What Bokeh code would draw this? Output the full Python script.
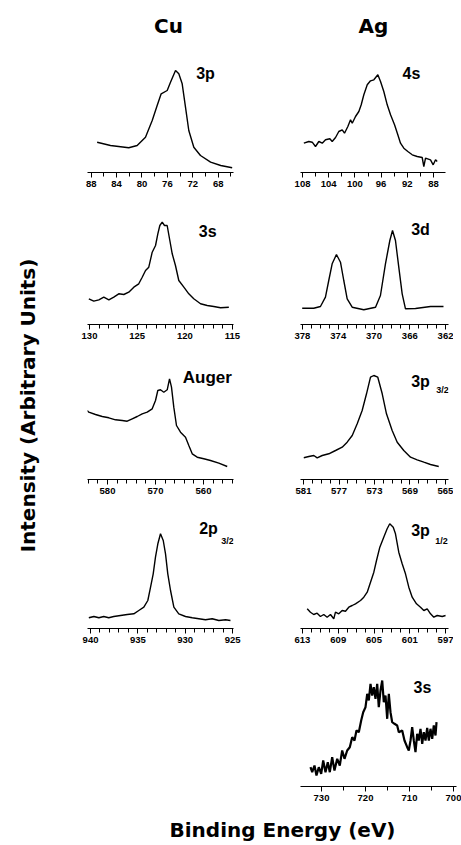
from math import pi
from bokeh.plotting import figure
from bokeh.models import Range1d, FixedTicker, Label, Spacer
from bokeh.layouts import column, row
from bokeh.embed import file_html
from bokeh.resources import INLINE

FONT = "Liberation Sans"
TFONT = "DejaVu Sans"

# ---------------- data (binding energy eV, intensity arb.) ----------------
cu3p_be = [87.06, 84.96, 82.08, 80.76, 79.45, 78.39, 77.61, 76.98, 76.03, 75.51, 74.72,
           74.2, 73.67, 73.15, 72.63, 71.84, 70.79, 69.2, 67.6, 65.8]
cu3p_int = [30.3, 27, 24.7, 27, 35.3, 52, 67, 78.7, 82, 90.3, 102,
            98.7, 88.7, 65.3, 42, 25.3, 17, 10.3, 7, 4.7]

ag4s_be = [107.8, 107.04, 106.52, 106.02, 105.51, 104.99, 104.49, 103.83, 103.47, 102.96,
           102.46, 101.94, 101.59, 101.08, 100.67, 100.41, 99.91, 99.40, 99.04, 98.64,
           98.12, 97.62, 97.11, 96.50, 96.09, 95.59, 95.07, 94.56, 93.95, 93.45,
           93.04, 92.53, 91.92, 91.25, 90.49, 89.73, 89.48, 89.22, 88.46, 88.05, 87.69, 87.44]
ag4s_int = [29.3, 31, 30.3, 26, 31, 29.3, 32.7, 33.7, 31, 35,
            41, 42.7, 39.3, 46, 52.7, 49.3, 56, 61, 67.7, 77.7,
            87.7, 91.7, 92.7, 97.7, 91, 81, 67.7, 57.7, 47.7, 37.7,
            29.3, 24.3, 21, 17.7, 16, 15, 6, 14.3, 12.7, 7.7, 12.7, 11]

cu3s_be = [130.07, 129.55, 129.02, 128.50, 127.97, 127.45, 126.93, 126.40, 125.88, 125.35,
           124.83, 124.47, 124.12, 123.78, 123.42, 123.07, 122.83, 122.62, 122.37, 122.13,
           121.85, 121.57, 121.32, 120.98, 120.63, 120.10, 119.58, 119.06, 118.35, 117.65,
           116.96, 116.25, 115.38]
cu3s_int = [25.7, 23.3, 24.7, 27.3, 24.7, 27.3, 30.7, 30, 32.3, 37.3,
            40.7, 47.3, 54, 57.3, 72.3, 79, 90.7, 99, 102.3, 99,
            99, 84, 70.7, 59, 44, 37.3, 30.7, 25.7, 20.7, 19,
            18, 16.7, 17.3]

ag3d_be = [378.03, 376.74, 375.99, 375.43, 375.06, 374.68, 374.20, 373.75, 373.38, 373.0,
           372.44, 371.14, 369.83, 369.28, 368.72, 368.23, 367.93, 367.60, 367.23, 366.85,
           366.48, 365.36, 363.68, 362.23]
ag3d_int = [16.3, 16.3, 18, 27.3, 44, 60.7, 70, 62.3, 44, 25.7,
            17.3, 14.7, 17.3, 29, 60.7, 84, 94, 84, 57.3, 30.7,
            15.7, 16, 18, 18]

cuaug_be = [584.23, 583.9, 582.5, 581.1, 579.73, 578.33, 576.94, 575.9, 574.85, 573.81,
            572.77, 571.73, 570.69, 570.0, 569.52, 568.96, 568.27, 567.56, 567.08, 566.67,
            566.19, 565.63, 564.79, 563.75, 563.06, 562.35, 561.31, 559.94, 558.54, 556.81,
            555.06]
cuaug_int = [69, 67.3, 65, 63, 61.7, 59.7, 59, 58.3, 60.7, 63,
             65.7, 67.3, 70.7, 79, 89, 89.7, 87.3, 89.7, 100.7, 92.3,
             72.3, 54, 47.3, 42.3, 34, 25.7, 22.3, 20.7, 19, 16.3,
             13]

ag3p32_be = [580.97, 580.4, 579.84, 579.46, 578.89, 578.15, 577.39, 576.64, 576.08, 575.51,
             574.95, 574.39, 573.9, 573.45, 573.08, 572.63, 572.13, 571.65, 571.01, 570.44,
             569.70, 568.94, 568.19, 567.44, 566.69, 565.76]
ag3p32_int = [21.7, 23, 24, 21.7, 24, 25.7, 29, 32.3, 37.3, 44,
              55.7, 69, 85.7, 102.3, 104, 102.3, 85.7, 65.7, 49, 37.3,
              29, 22.3, 19.7, 17.3, 15, 13]

cu2p_be = [940.18, 939.65, 939.12, 938.6, 938.07, 937.54, 936.83, 936.12, 935.43, 934.9,
           934.37, 933.95, 933.66, 933.38, 933.14, 932.89, 932.61, 932.32, 932.08, 931.84,
           931.55, 931.2, 930.68, 929.97, 929.26, 928.56, 927.86, 927.15, 926.45, 925.74,
           925.22]
cu2p_int = [10.7, 12, 10.7, 12, 10.7, 12, 13, 14, 14.7, 18,
            21.3, 28, 41.3, 54.7, 71.3, 84.7, 94.7, 88, 74.7, 54.7,
            38, 21.3, 14.7, 12, 10.7, 9.7, 8.7, 9.7, 8, 8.7,
            8]

ag3p12_be = [612.47, 612.11, 611.74, 611.36, 610.99, 610.62, 610.24, 609.87, 609.5, 609.31,
             608.94, 608.56, 608.19, 607.82, 607.44, 607.07, 606.51, 606.14, 605.76, 605.39,
             605.02, 604.72, 604.35, 603.91, 603.53, 603.24, 602.85, 602.6, 602.23, 601.85,
             601.48, 601.11, 600.73, 600.25, 599.8, 599.43, 599.05, 598.68, 598.31, 597.93,
             597.37, 597.0]
ag3p12_int = [19.7, 16.3, 14, 15.3, 12, 14, 11.3, 14, 9.7, 16.3,
              14.7, 18, 17.3, 21.3, 23, 24.7, 28, 31.3, 36.3, 46.3,
              56.3, 68, 81.3, 91.3, 99.7, 104.7, 101.3, 94.7, 76.3, 64.7,
              54.7, 41.3, 31.3, 24.7, 21.3, 18, 19.7, 14.7, 11.3, 13,
              12, 13]

ag3s_be = [732.5, 732.11, 731.59, 731.14, 730.61, 730.07, 729.61, 729.09, 728.57, 728.11,
           727.57, 727.05, 726.43, 725.84, 725.3, 724.77, 724.16, 723.57, 723.02, 722.5,
           722.05, 721.52, 720.98, 720.52, 720.0, 719.61, 719.25, 718.86, 718.48, 718.11,
           717.73, 717.34, 716.98, 716.59, 716.2, 715.84, 715.45, 715.07, 714.7, 714.32,
           713.93, 713.41, 712.8, 712.43, 711.66, 711.14, 710.52, 710.16, 709.77, 709.39,
           709.02, 708.64, 708.25, 707.89, 707.5, 707.11, 706.75, 706.36, 705.98, 705.61,
           705.23, 704.84, 704.48, 704.09, 703.86]
ag3s_int = [19.3, 14.3, 21, 11, 19.3, 12.7, 26, 14.3, 24.3, 14.3,
            29.3, 16, 27.7, 21, 36, 27.7, 36, 39.3, 49.3, 46,
            56, 54.3, 66, 74.3, 79.3, 92.7, 86, 102.7, 91, 99.3,
            87.7, 102.7, 79.3, 96, 106, 84.3, 91, 67.7, 92.7, 74.3,
            64.3, 62.7, 61, 54.3, 56, 46, 39.3, 36, 46, 59.3,
            46, 34.3, 52.7, 46, 57.7, 42.7, 54.3, 46, 58.7, 46,
            57.7, 47.7, 61, 51, 64.3]

# tick labels
cu3p_ticks = [88, 84, 80, 76, 72, 68]
ag4s_ticks = [108, 104, 100, 96, 92, 88]
cu3s_ticks = [130, 125, 120, 115]
ag3d_ticks = [378, 374, 370, 366, 362]
cuaug_ticks = [580, 570, 560]
ag3p32_ticks = [581, 577, 573, 569, 565]
cu2p_ticks = [940, 935, 930, 925]
ag3p12_ticks = [613, 609, 605, 601, 597]
ag3s_ticks = [730, 720, 710, 700]

BOTTOM = 30


def panel(width, height, xr, left, right, ticks, minor, be, inten, lw=1.4):
    frame_h = height - BOTTOM
    p = figure(width=width, height=height, x_range=Range1d(*xr), y_range=Range1d(0, frame_h),
               x_axis_location="below", y_axis_location=None, toolbar_location=None,
               output_backend="svg", min_border_left=left, min_border_right=right,
               min_border_top=0, min_border_bottom=BOTTOM)
    p.outline_line_color = None
    p.grid.grid_line_color = None
    p.background_fill_color = "white"
    p.border_fill_color = "white"
    ax = p.xaxis[0]
    ax.ticker = FixedTicker(ticks=ticks, minor_ticks=minor)
    ax.axis_line_color = "black"
    ax.axis_line_width = 1.2
    ax.major_tick_in = 0
    ax.major_tick_out = 5
    ax.minor_tick_in = 0
    ax.minor_tick_out = 4
    ax.major_tick_line_color = "black"
    ax.minor_tick_line_color = "black"
    ax.major_label_standoff = 3
    ax.major_label_text_font = FONT
    ax.major_label_text_font_size = "9.5px"
    ax.major_label_text_font_style = "bold"
    ax.major_label_text_color = "black"
    p.line(be, inten, line_color="black", line_width=lw)
    return p


def lab(p, x, y, text, size="16px", font=FONT):
    p.add_layout(Label(x=x, y=y, text=text, text_font=font, text_font_size=size,
                       text_font_style="bold", text_align="center", text_baseline="middle",
                       text_color="black"))


def text_fig(w, h):
    p = figure(width=w, height=h, x_range=Range1d(0, w), y_range=Range1d(0, h),
               x_axis_location=None, y_axis_location=None, toolbar_location=None,
               output_backend="svg", min_border=0)
    p.outline_line_color = None
    p.grid.grid_line_color = None
    return p


LW, CW, AW = 75, 187, 199
H = [154, 152, 155, 149, 158]
CL, CR = 12, 29
AL, AR = 38, 5

p1 = panel(CW, H[0], (88.58, 65.59), CL, CR, cu3p_ticks, list(range(88, 65, -2)), cu3p_be, cu3p_int)
lab(p1, 70.0, 99, "3p")
p2 = panel(CW, H[1], (130.21, 114.89), CL, CR, cu3s_ticks, list(range(130, 114, -1)), cu3s_be, cu3s_int)
lab(p2, 117.6, 93, "3s")
p3 = panel(CW, H[2], (584.17, 553.75), CL, CR, cuaug_ticks, list(range(584, 553, -2)), cuaug_be, cuaug_int)
lab(p3, 559.2, 102, "Auger", "17px")
p4 = panel(CW, H[3], (940.32, 924.90), CL, CR, cu2p_ticks, list(range(940, 924, -1)), cu2p_be, cu2p_int)
lab(p4, 927.54, 100, "2p")
lab(p4, 925.53, 88, "3/2", "9px")

q1 = panel(188, H[0], (108.31, 86.17), AL, AR, ag4s_ticks, list(range(108, 86, -2)), ag4s_be, ag4s_int)
lab(q1, 91.36, 99, "4s")
q2 = panel(191, H[1], (378.22, 361.67), AL, AR, ag3d_ticks, list(range(378, 361, -1)), ag3d_be, ag3d_int)
lab(q2, 364.8, 95, "3d")
q3 = panel(191, H[2], (581.34, 564.66), AL, AR, ag3p32_ticks, list(range(581, 564, -1)), ag3p32_be, ag3p32_int)
lab(q3, 567.82, 98, "3p")
lab(q3, 565.34, 90, "3/2", "9px")
q4 = panel(191, H[3], (613.22, 596.67), AL, AR, ag3p12_ticks, list(range(613, 596, -1)), ag3p12_be, ag3p12_int)
lab(q4, 599.8, 98, "3p")
lab(q4, 597.45, 88, "1/2", "9px")
q5 = panel(AW, H[4], (734.77, 699.32), AL, AR, ag3s_ticks, list(range(730, 699, -5)), ag3s_be, ag3s_int, lw=2.2)
lab(q5, 707.05, 99, "3s")

TOTAL_W = LW + CW + AW
header = text_fig(TOTAL_W, 48)
lab(header, 168, 23, "Cu", "20px", TFONT)
lab(header, 373, 23, "Ag", "20px", TFONT)

MAIN_H = sum(H)
left = text_fig(LW, MAIN_H)
left.add_layout(Label(x=27, y=MAIN_H - (405 - 48), text="Intensity (Arbitrary Units)", angle=pi / 2,
                      text_font=TFONT, text_font_size="20px", text_font_style="bold",
                      text_align="center", text_baseline="middle", text_color="black"))

footer = text_fig(TOTAL_W, 28)
lab(footer, 282, 15, "Binding Energy (eV)", "20px", TFONT)

cu_col = column(p1, p2, p3, p4, Spacer(width=CW, height=H[4]), spacing=0)
ag_col = column(q1, q2, q3, q4, q5, spacing=0)
layout = column(header, row(left, cu_col, ag_col, spacing=0), footer, spacing=0)

open("out.html", "w").write(file_html(layout, INLINE))
